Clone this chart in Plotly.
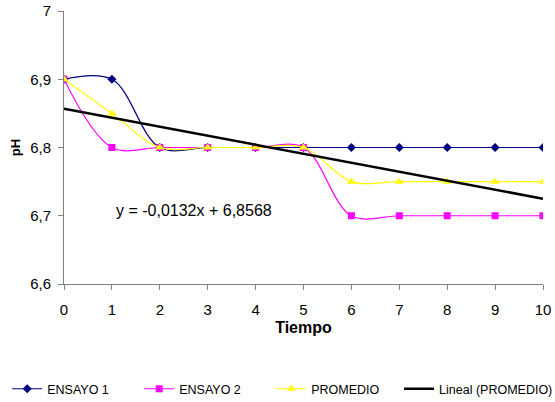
import numpy as np
import plotly.graph_objects as go

tiempo = [0, 1, 2, 3, 4, 5, 6, 7, 8, 9, 10]
ensayo1 = [6.9, 6.9, 6.8, 6.8, 6.8, 6.8, 6.8, 6.8, 6.8, 6.8, 6.8]
ensayo2 = [6.9, 6.8, 6.8, 6.8, 6.8, 6.8, 6.7, 6.7, 6.7, 6.7, 6.7]
promedio = [6.9, 6.85, 6.8, 6.8, 6.8, 6.8, 6.75, 6.75, 6.75, 6.75, 6.75]
y_ticks = [6.6, 6.7, 6.8, 6.9, 7.0]
y_labels = ["6,6", "6,7", "6,8", "6,9", "7"]

slope, intercept = np.polyfit(tiempo, promedio, 1)
trend = [slope * x + intercept for x in tiempo]
eq_text = "y = " + f"{slope:.4f}".replace(".", ",") + "x + " + f"{intercept:.4f}".replace(".", ",")

font = "Liberation Sans, Arial, sans-serif"
fig = go.Figure()
fig.add_trace(go.Scatter(x=tiempo, y=ensayo1, name="ENSAYO 1", mode="lines+markers",
                         line=dict(color="#000080", width=1.2, shape="spline", smoothing=1),
                         marker=dict(symbol="diamond", size=7, color="#000080")))
fig.add_trace(go.Scatter(x=tiempo, y=ensayo2, name="ENSAYO 2", mode="lines+markers",
                         line=dict(color="#FF00FF", width=1.2, shape="spline", smoothing=1),
                         marker=dict(symbol="square", size=7, color="#FF00FF")))
fig.add_trace(go.Scatter(x=tiempo, y=promedio, name="PROMEDIO", mode="lines+markers",
                         line=dict(color="#FFFF00", width=1.2, shape="spline", smoothing=1),
                         marker=dict(symbol="triangle-up", size=8, color="#FFFF00")))
fig.add_trace(go.Scatter(x=tiempo, y=trend, name="Lineal (PROMEDIO)", mode="lines",
                         line=dict(color="black", width=2.5), legend="legend2"))

fig.add_annotation(x=2.72, y=6.707, text=eq_text, showarrow=False, xref="x", yref="y",
                   font=dict(family=font, size=16, color="black"))

legend_common = dict(orientation="h", xref="container", yref="container", xanchor="left",
                     y=0.032, yanchor="middle", font=dict(family=font, size=12.5),
                     tracegroupgap=0, bgcolor="rgba(0,0,0,0)")
fig.update_layout(
    width=555, height=402, paper_bgcolor="white", plot_bgcolor="white",
    margin=dict(l=64, r=12, t=11, b=118, autoexpand=False),
    font=dict(family=font, size=15, color="black"),
    showlegend=True,
    legend=dict(x=0.013, entrywidth=87, entrywidthmode="pixels", **legend_common),
    legend2=dict(x=0.719, **legend_common),
)
fig.update_xaxes(range=[0, 10], tickvals=tiempo, showline=True, linecolor="#808080", linewidth=1,
                 ticks="outside", ticklen=5, tickcolor="#808080", showgrid=False, zeroline=False,
                 automargin=False, ticklabelstandoff=7,
                 title=dict(text="<b>Tiempo</b>", font=dict(family=font, size=16), standoff=4),
                 tickfont=dict(size=15))
fig.update_yaxes(range=[6.6, 7.0], tickvals=y_ticks, ticktext=y_labels, showline=True,
                 linecolor="#808080", linewidth=1, ticks="outside", ticklen=5, tickcolor="#808080",
                 showgrid=False, zeroline=False, automargin=False, ticklabelstandoff=4,
                 title=dict(text="<b>pH</b>", font=dict(family=font, size=13), standoff=6),
                 tickfont=dict(size=15))

fig.write_html("out.html", config={"displayModeBar": False},
               post_script="document.body.style.margin='0';")
